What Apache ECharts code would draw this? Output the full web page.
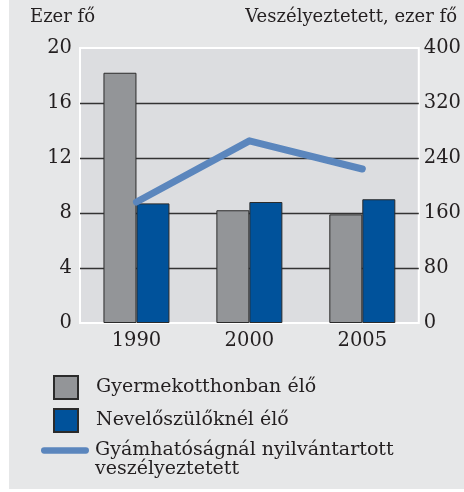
<!DOCTYPE html>
<html>
<head>
<meta charset="utf-8">
<script src="https://cdn.jsdelivr.net/npm/echarts@6/dist/echarts.min.js"></script>
<style>
  html, body { margin: 0; padding: 0; background: #fff; }
  #chart { width: 464px; height: 492px; }
</style>
</head>
<body>
<div id="chart"></div>
<script>
// adatok
var years = ['1990', '2000', '2005'];
var otthon = [18.2, 8.2, 7.9];          // Gyermekotthonban élő, ezer fő
var nevelo = [8.7, 8.8, 9.0];           // Nevelőszülőknél élő, ezer fő
var veszely = [176, 265, 224];          // Gyámhatóságnál nyilvántartott veszélyeztetett
var leftTicks = [0, 4, 8, 12, 16, 20];
var rightTicks = [0, 80, 160, 240, 320, 400];

var fontFam = 'DejaVu Serif';
var txtColor = '#231f20';

var myChart = echarts.init(document.getElementById('chart'));
var option = {
    animation: false,
    backgroundColor: '#fff',
    graphic: [
        {
            type: 'rect', z: -10,
            shape: { x: 9, y: 0, width: 455, height: 489 },
            style: { fill: '#e6e7e8' }
        },
        {
            type: 'text', left: 30, top: 8,
            style: { text: 'Ezer fő', font: '18px "' + fontFam + '"', fill: txtColor }
        },
        {
            type: 'text', right: 7, top: 8,
            style: { text: 'Veszélyeztetett, ezer fő', font: '18px "' + fontFam + '"', fill: txtColor }
        }
    ],
    grid: {
        left: 80, right: 44, top: 48, bottom: 169,
        show: true,
        backgroundColor: '#dcdde0',
        borderColor: '#ffffff',
        borderWidth: 2
    },
    legend: [
        {
            orient: 'vertical',
            left: 53, top: 375, padding: 0,
            itemWidth: 24, itemHeight: 23, itemGap: 8,
            icon: 'rect',
            textStyle: { fontFamily: fontFam, fontSize: 19, color: txtColor, padding: [0, 0, 0, 13] },
            data: ['Gyermekotthonban élő', 'Nevelőszülőknél élő']
        },
        {
            // üres első sor, hogy a vonal az első szövegsorral legyen egy magasságban
            orient: 'vertical',
            left: 41, top: 422, padding: 0,
            itemWidth: 48, itemHeight: 7,
            icon: 'path://M3,0 L43,0 A3,3 0 0 1 43,6 L3,6 A3,3 0 0 1 3,0 Z',
            textStyle: { fontFamily: fontFam, fontSize: 19, lineHeight: 19, color: txtColor, padding: [0, 0, 0, 1] },
            formatter: function (name) {
                return ' \nGyámhatóságnál nyilvántartott\nveszélyeztetett';
            },
            data: ['Gyámhatóságnál nyilvántartott veszélyeztetett']
        }
    ],
    xAxis: {
        type: 'category',
        data: years,
        axisLine: { show: false },
        axisTick: { show: false },
        axisLabel: { fontFamily: fontFam, fontSize: 19.5, color: txtColor, margin: 8 }
    },
    yAxis: [
        {
            type: 'value',
            min: 0, max: 20, interval: 4,
            axisLine: { show: false },
            axisTick: { show: false },
            axisLabel: { fontFamily: fontFam, fontSize: 19.5, color: txtColor, margin: 8 },
            splitLine: {
                show: true, showMinLine: false, showMaxLine: false,
                lineStyle: { color: '#333333', width: 1.3 }
            }
        },
        {
            type: 'value',
            min: 0, max: 400, interval: 80,
            axisLine: { show: false },
            axisTick: { show: false },
            axisLabel: { fontFamily: fontFam, fontSize: 19.5, color: txtColor, margin: 5 },
            splitLine: { show: false }
        }
    ],
    series: [
        {
            name: 'Gyermekotthonban élő',
            type: 'bar',
            data: otthon,
            barWidth: 33,
            barGap: '0%',
            itemStyle: { color: '#939598', borderColor: '#2b2b2b', borderWidth: 1 }
        },
        {
            name: 'Nevelőszülőknél élő',
            type: 'bar',
            data: nevelo,
            barWidth: 33,
            itemStyle: { color: '#00529b', borderColor: '#2b2b2b', borderWidth: 1 }
        },
        {
            name: 'Gyámhatóságnál nyilvántartott veszélyeztetett',
            type: 'line',
            yAxisIndex: 1,
            data: veszely,
            showSymbol: false,
            symbol: 'none',
            lineStyle: { color: '#5b86bd', width: 7, cap: 'round', join: 'round' },
            itemStyle: { color: '#5b86bd' }
        }
    ]
};
myChart.setOption(option);
</script>
</body>
</html>
